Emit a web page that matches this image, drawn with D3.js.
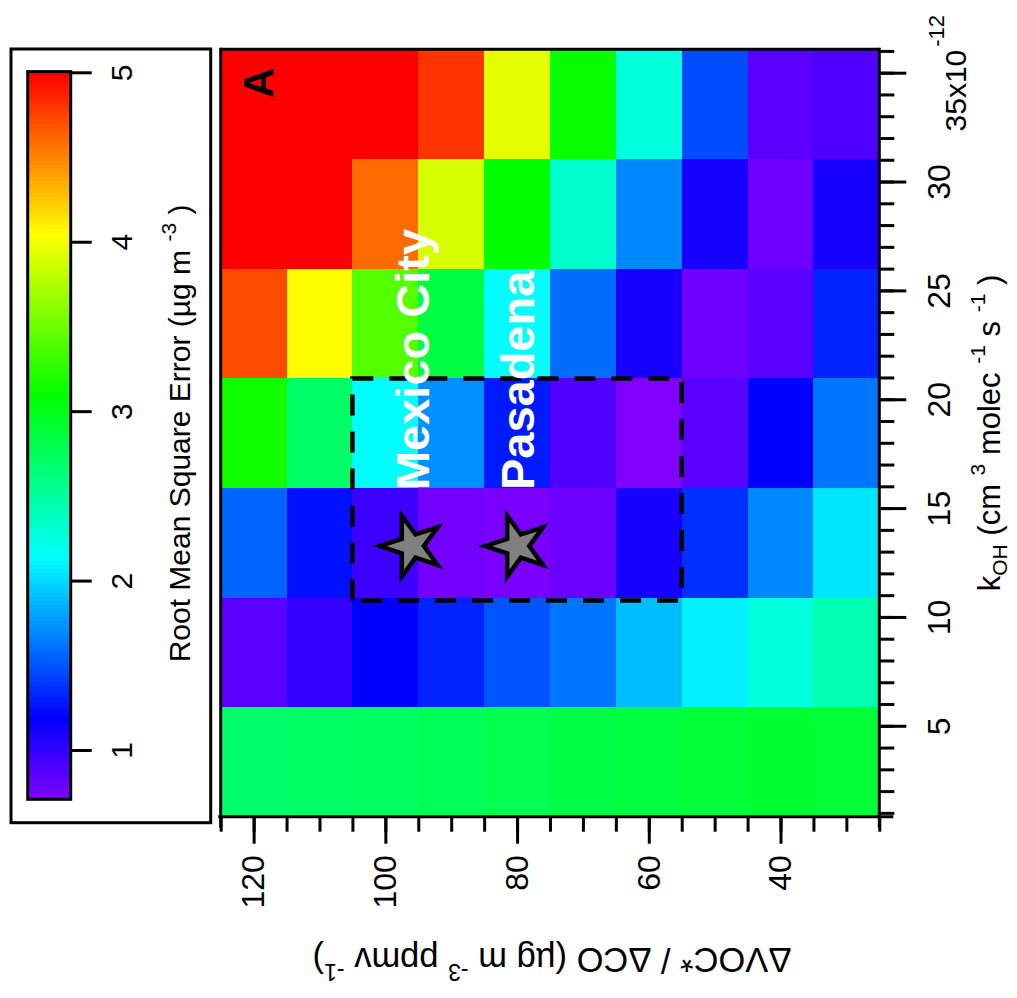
<!DOCTYPE html>
<html>
<head>
<meta charset="utf-8">
<script src="https://cdn.jsdelivr.net/npm/d3@7"></script>
<style>
  html, body { margin: 0; padding: 0; background: #fff; }
  svg { display: block; }
</style>
</head>
<body>
<svg id="chart" width="1017" height="998"></svg>
<script>
// ΔVOC*/ΔCO bin centres (µg m-3 ppmv-1), one column each
const vocBins = [120, 110, 100, 90, 80, 70, 60, 50, 40, 30];
const vocBinWidth = 10;
// kOH bin edges (x1e-12 cm3 molec-1 s-1), low to high
const kohEdges = [0.87, 5.9, 10.9, 15.97, 21.0, 26.04, 31.08, 36.12];

// Root mean square error (µg m-3), one row per kOH bin (low to high), columns follow vocBins
const rmseRow1 = [2.70, 2.72, 2.74, 2.77, 2.80, 2.84, 2.86, 2.89, 2.92, 2.90];
const rmseRow2 = [0.86, 1.00, 1.19, 1.32, 1.51, 1.63, 1.90, 2.09, 2.27, 2.44];
const rmseRow3 = [1.57, 1.25, 0.97, 0.76, 0.74, 0.79, 1.10, 1.37, 1.70, 2.05];
const rmseRow4 = [3.15, 2.71, 2.14, 1.73, 1.29, 0.89, 0.715, 0.86, 1.19, 1.63];
const rmseRow5 = [4.72, 4.05, 3.41, 2.84, 2.14, 1.60, 1.10, 0.78, 0.86, 1.32];
const rmseRow6 = [6.00, 5.30, 4.60, 3.89, 3.10, 2.33, 1.70, 1.10, 0.78, 1.10];
const rmseRow7 = [6.80, 6.10, 5.40, 4.81, 3.95, 3.12, 2.27, 1.48, 0.86, 0.89];
const rmseRows = [rmseRow1, rmseRow2, rmseRow3, rmseRow4, rmseRow5, rmseRow6, rmseRow7];

// Colour range of the RMSE scale
const rmseMin = 0.715;
const rmseMax = 5.0;

// Axis ticks
const kohTicks = [5, 10, 15, 20, 25, 30, 35];
const kohMinorTicks = d3.range(1, 37, 1);
const vocTicks = [120, 100, 80, 60, 40];
const vocMinorTicks = d3.range(25, 126, 5);
const rmseTicks = [1, 2, 3, 4, 5];

// Measurement sites
const siteNames = ["Mexico City", "Pasadena"];
const siteVoc = [96, 80];
const siteKoh = [13.3, 13.3];

// Highlighted range
const boxVoc = [105, 55];
const boxKoh = [10.8, 21.0];

const FONT = '"Liberation Sans", Arial, Helvetica, sans-serif';

const svg = d3.select("#chart");
// The figure is laid out landscape and turned a quarter turn anticlockwise.
const g = svg.append("g").attr("transform", "translate(0,998) rotate(-90)");

// Plot scales (X along kOH, Y along ΔVOC*/ΔCO)
const x = d3.scaleLinear().domain([kohEdges[0], kohEdges[kohEdges.length - 1]]).range([181.3, 948.7]);
const y = d3.scaleLinear().domain([125, 25]).range([220.7, 879.3]);

// Rainbow colour scale: red at high error through to violet at low error
const hue = d3.scaleLinear().domain([rmseMax, rmseMin]).range([0, 270]).clamp(true);
const colour = v => d3.hsl(hue(v), 1, 0.5).formatHex();

// ---- Image cells ----
const cells = [];
rmseRows.forEach((row, r) => {
  row.forEach((v, c) => cells.push({ k0: kohEdges[r], k1: kohEdges[r + 1], voc: vocBins[c], v }));
});
g.append("g")
  .attr("shape-rendering", "crispEdges")
  .selectAll("rect")
  .data(cells)
  .join("rect")
  .attr("x", d => x(d.k0))
  .attr("width", d => x(d.k1) - x(d.k0) + 0.5)
  .attr("y", d => y(d.voc + vocBinWidth / 2))
  .attr("height", d => y(d.voc - vocBinWidth / 2) - y(d.voc + vocBinWidth / 2) + 0.5)
  .attr("fill", d => colour(d.v));

// ---- Axes ----
function styleAxis(size) {
  return sel => {
    sel.select(".domain").remove();
    sel.attr("font-family", FONT).attr("font-size", size);
    sel.selectAll(".tick line").attr("stroke", "#000").attr("stroke-width", 3);
    sel.selectAll(".tick text").attr("fill", "#000");
  };
}

const yAxisX = x.range()[0];
const xAxisY = y.range()[1];

// kOH axis: minor then major ticks
g.append("g")
  .attr("transform", `translate(0,${xAxisY})`)
  .call(d3.axisBottom(x).tickValues(kohMinorTicks).tickSize(15).tickFormat(""))
  .call(styleAxis(32));
const kohAxis = g.append("g")
  .attr("transform", `translate(0,${xAxisY})`)
  .call(d3.axisBottom(x).tickValues(kohTicks).tickSize(27).tickPadding(20.5))
  .call(styleAxis(32));
kohAxis.selectAll(".tick text").filter(d => d === 35)
  .text(null)
  .attr("y", 64)
  .call(t => {
    t.append("tspan").attr("font-size", 30).text("35x10");
    t.append("tspan").attr("dy", -22).attr("dx", 3).attr("font-size", 22).text("-12");
  });

// ΔVOC*/ΔCO axis
g.append("g")
  .attr("transform", `translate(${yAxisX},0)`)
  .call(d3.axisLeft(y).tickValues(vocMinorTicks).tickSize(15).tickFormat(""))
  .call(styleAxis(32));
g.append("g")
  .attr("transform", `translate(${yAxisX},0)`)
  .call(d3.axisLeft(y).tickValues(vocTicks).tickSize(27).tickPadding(11.5))
  .call(styleAxis(32));

// Frame and axis lines
const frame = g.append("g").attr("stroke", "#000").attr("stroke-width", 3).attr("fill", "none");
frame.append("line").attr("x1", yAxisX - 11).attr("x2", x.range()[1] + 1.5).attr("y1", xAxisY).attr("y2", xAxisY);
frame.append("line").attr("x1", yAxisX - 11).attr("x2", x.range()[1] + 1.5).attr("y1", y.range()[0]).attr("y2", y.range()[0]);
frame.append("line").attr("x1", yAxisX).attr("x2", yAxisX).attr("y1", y.range()[0] - 2.5).attr("y2", xAxisY + 14);
frame.append("line").attr("x1", x.range()[1]).attr("x2", x.range()[1]).attr("y1", y.range()[0]).attr("y2", xAxisY);

// Axis titles
const kohTitle = g.append("text")
  .attr("x", (x.range()[0] + x.range()[1]) / 2).attr("y", 1000)
  .attr("text-anchor", "middle")
  .attr("font-family", FONT).attr("font-size", 31).attr("fill", "#000");
kohTitle.append("tspan").text("k");
kohTitle.append("tspan").attr("font-size", 21).attr("dy", 7).text("OH");
kohTitle.append("tspan").attr("dy", -7).text(" (cm ");
kohTitle.append("tspan").attr("font-size", 21).attr("dy", -15).text("3");
kohTitle.append("tspan").attr("dy", 15).text(" molec ");
kohTitle.append("tspan").attr("font-size", 21).attr("dy", -15).text("-1");
kohTitle.append("tspan").attr("dy", 15).text(" s ");
kohTitle.append("tspan").attr("font-size", 21).attr("dy", -15).text("-1");
kohTitle.append("tspan").attr("dy", 15).text(" )");

const vocTitle = g.append("text")
  .attr("transform", `translate(50,${(y.range()[0] + y.range()[1]) / 2 + 2}) rotate(-90)`)
  .attr("text-anchor", "middle")
  .attr("font-family", FONT).attr("font-size", 34.5).attr("fill", "#000");
vocTitle.append("tspan").text("ΔVOC* / ΔCO (µg m ");
vocTitle.append("tspan").attr("font-size", 23).attr("dy", -16).text("-3");
vocTitle.append("tspan").attr("dy", 16).text(" ppmv ");
vocTitle.append("tspan").attr("font-size", 23).attr("dy", -16).text("-1");
vocTitle.append("tspan").attr("dy", 16).text(")");

// ---- Highlighted range ----
g.append("rect")
  .attr("x", x(boxKoh[0])).attr("width", x(boxKoh[1]) - x(boxKoh[0]))
  .attr("y", y(boxVoc[0])).attr("height", y(boxVoc[1]) - y(boxVoc[0]))
  .attr("fill", "none").attr("stroke", "#000").attr("stroke-width", 4.5)
  .attr("stroke-dasharray", "21 16");

// ---- Sites ----
const star = d3.symbol(d3.symbolStar, 1150);
siteNames.forEach((name, i) => {
  const px = x(siteKoh[i]);
  const py = y(siteVoc[i]);
  g.append("path")
    .attr("d", star())
    .attr("transform", `translate(${px},${py})`)
    .attr("fill", "#808080").attr("stroke", "#000").attr("stroke-width", 4.5);
  g.append("text")
    .attr("x", px + 56).attr("y", py + 17)
    .attr("font-family", FONT).attr("font-size", 47).attr("font-weight", "bold")
    .attr("fill", "#fff")
    .text(name);
});

// Panel letter
g.append("text")
  .attr("x", 900).attr("y", 273)
  .attr("font-family", FONT).attr("font-size", 42).attr("font-weight", "bold")
  .attr("fill", "#000")
  .text("A");

// ---- Colour scale ----
const cb = d3.scaleLinear().domain([rmseMin, 5.01]).range([198.7, 926.4]);
const cbTop = 27.7, cbBottom = 70.7;
const steps = 180;
const stepVals = d3.range(steps).map(i => rmseMin + (5.01 - rmseMin) * i / steps);
const stepW = (cb.range()[1] - cb.range()[0]) / steps;
g.append("g")
  .attr("shape-rendering", "crispEdges")
  .selectAll("rect")
  .data(stepVals)
  .join("rect")
  .attr("x", d => cb(d))
  .attr("width", stepW + 0.6)
  .attr("y", cbTop).attr("height", cbBottom - cbTop)
  .attr("fill", d => colour(d + (5.01 - rmseMin) / steps / 2));
g.append("rect")
  .attr("x", cb.range()[0]).attr("width", cb.range()[1] - cb.range()[0])
  .attr("y", cbTop).attr("height", cbBottom - cbTop)
  .attr("fill", "none").attr("stroke", "#000").attr("stroke-width", 3);
g.append("g")
  .attr("transform", `translate(0,${cbBottom})`)
  .call(d3.axisBottom(cb).tickValues(rmseTicks).tickFormat(d3.format("d")).tickSize(21).tickPadding(18.7))
  .call(styleAxis(30));

const cbTitle = g.append("text")
  .attr("x", (cb.range()[0] + cb.range()[1]) / 2 + 2).attr("y", 190)
  .attr("text-anchor", "middle")
  .attr("font-family", FONT).attr("font-size", 30).attr("fill", "#000");
cbTitle.append("tspan").text("Root Mean Square Error (µg m ");
cbTitle.append("tspan").attr("font-size", 21).attr("dy", -14).text("-3");
cbTitle.append("tspan").attr("dy", 14).text(" )");

// Colour scale frame
g.append("rect")
  .attr("x", 175.3).attr("y", 11)
  .attr("width", 949 - 175.3).attr("height", 210.7 - 11)
  .attr("fill", "none").attr("stroke", "#000").attr("stroke-width", 3);
</script>
</body>
</html>
